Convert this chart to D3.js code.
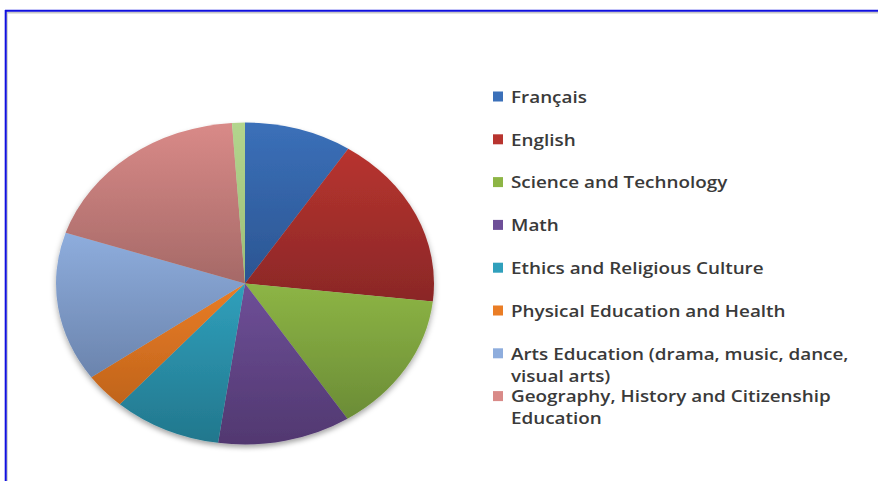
<!DOCTYPE html>
<html><head><meta charset="utf-8">
<script src="https://cdn.jsdelivr.net/npm/d3@7"></script>
<style>html,body{margin:0;padding:0;background:#fff;overflow:hidden}</style>
</head><body>
<svg id="chart" width="878" height="481"></svg>
<script>
const categories = ["Français","English","Science and Technology","Math","Ethics and Religious Culture","Physical Education and Health","Arts Education (drama, music, dance, visual arts)","Geography, History and Citizenship Education","Other"];
const values = [9.2, 17.6, 14.1, 11.4, 9.25, 3.6, 15.0, 18.8, 1.1];
const legendCount = 8;
const colorsTop = ["#3b70b9","#b8342f","#8db545","#6e4f98","#30a0bc","#ea7d25","#8eaddd","#d98a88","#b3d58d"];
const colorsBottom = ["#2b5592","#8a2727","#6b8c36","#513870","#22778d","#c0641c","#6b84ad","#a56967","#9bbd78"];

const svg = d3.select("#chart");
const defs = svg.append("defs");

// frame
svg.append("rect").attr("x",0).attr("y",0).attr("width",878).attr("height",481).attr("fill","#fff");
svg.append("line").attr("x1",5).attr("x2",878).attr("y1",12.5).attr("y2",12.5).attr("stroke","#c8c8c8").attr("stroke-width",2);
svg.append("line").attr("x1",7).attr("x2",7).attr("y1",11).attr("y2",481).attr("stroke","#c8c8c8").attr("stroke-width",1.5);
svg.append("line").attr("x1",5).attr("x2",878).attr("y1",10.8).attr("y2",10.8).attr("stroke","#1010e0").attr("stroke-width",2);
svg.append("line").attr("x1",5.7).attr("x2",5.7).attr("y1",10).attr("y2",481).attr("stroke","#1010e0").attr("stroke-width",2);

// gradients
values.forEach((v,i)=>{
  const g = defs.append("linearGradient").attr("id","g"+i).attr("x1",0).attr("y1",0).attr("x2",0).attr("y2",1);
  g.append("stop").attr("offset","0%").attr("stop-color",colorsTop[i]);
  g.append("stop").attr("offset","100%").attr("stop-color",colorsBottom[i]);
});
const f = defs.append("filter").attr("id","sh").attr("x","-10%").attr("y","-10%").attr("width","120%").attr("height","125%");
f.append("feDropShadow").attr("dx",0).attr("dy",3).attr("stdDeviation",2.5).attr("flood-color","#000").attr("flood-opacity",0.35);

const cx = 245, cy = 283.5, ry = 161, rx = 189;
const pie = d3.pie().sort(null).value(d=>d);
const arc = d3.arc().innerRadius(0).outerRadius(ry);
const pg = svg.append("g").attr("transform",`translate(${cx},${cy}) scale(${rx/ry},1)`).attr("filter","url(#sh)");
pg.selectAll("path").data(pie(values)).join("path")
  .attr("d",arc)
  .attr("fill",(d,i)=>`url(#g${i})`);

// legend
const lg = svg.append("g");
const rowY = d3.scaleLinear().domain([0,1]).range([97,139.8]);
const fontSize = 16;
const sx = 1.18;
const maxW = 345 / sx;
const leg = lg.selectAll("g.item").data(categories.slice(0,legendCount)).join("g").attr("class","item");
leg.append("rect").attr("x",493).attr("y",(d,i)=>rowY(i)-5.5).attr("width",10).attr("height",10)
  .attr("fill",(d,i)=>colorsTop[i]);
leg.each(function(d,i){
  const t = d3.select(this).append("text")
    .attr("transform",`translate(511,${rowY(i)}) scale(${sx},1)`)
    .attr("x",0).attr("y",0).attr("dy","0.36em")
    .attr("font-family","'Open Sans', sans-serif").attr("font-size",fontSize).attr("font-weight",600)
    .attr("fill","#3a3a3a");
  const words = d.split(" ");
  let line = [], ts = t.append("tspan").attr("x",0);
  words.forEach(w=>{
    line.push(w); ts.text(line.join(" "));
    if (ts.node().getComputedTextLength() > maxW && line.length>1){
      line.pop(); ts.text(line.join(" "));
      line=[w];
      ts = t.append("tspan").attr("x",0).attr("dy",22).text(w);
    }
  });
});
</script>
</body></html>
